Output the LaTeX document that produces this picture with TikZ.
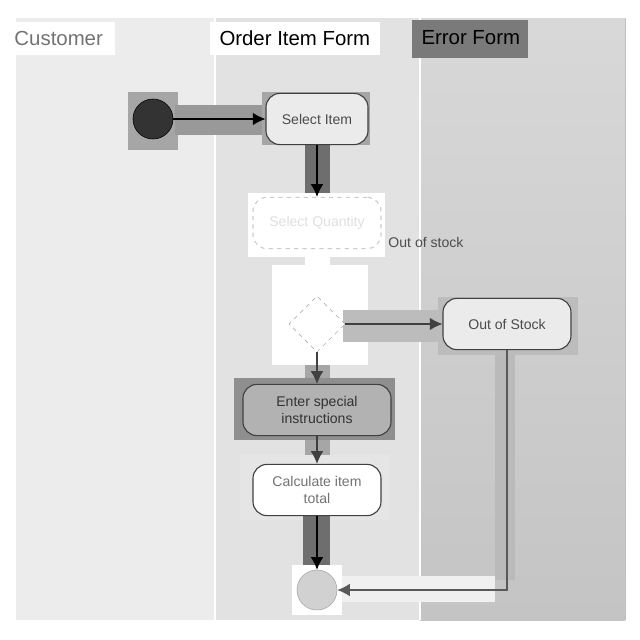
\documentclass[tikz,border=0pt]{standalone}
\usepackage{fontspec}
\setmainfont{Liberation Sans}
\usetikzlibrary{shapes.geometric,arrows.meta}

\definecolor{laneA}{HTML}{ECECEC}
\definecolor{laneB}{HTML}{E2E2E2}
\definecolor{laneCtop}{HTML}{D8D8D8}
\definecolor{laneCbot}{HTML}{C4C4C4}
\definecolor{markDark}{HTML}{6E6E6E}
\definecolor{markMid}{HTML}{A6A6A6}
\definecolor{markLight}{HTML}{BCBCBC}

\tikzset{
  action/.style={draw=black!75,thick,rounded corners=0.35cm,fill=black!8,
    minimum width=3.2cm,minimum height=1.28cm,align=center,
    font=\fontsize{10}{12}\selectfont,text=black!70},
  flow/.style={thick,black,-{Latex[length=9pt,width=9pt]}},
  header/.style={anchor=west,inner sep=3pt,font=\fontsize{14.5}{16}\selectfont}
}

\begin{document}
\begin{tikzpicture}[x=0.025cm,y=-0.025cm]
      % Canvas
      \useasboundingbox[fill=white] (0,0) rectangle (640,640);

      % Swimlanes
      \fill[laneA] (15,18) rectangle (215,620);
      \fill[laneB] (215,18) rectangle (420,620);
      \shade[top color=laneCtop,bottom color=laneCbot] (420,18) rectangle (625,620);
      \draw[white,line width=1.5pt] (15,18) -- (15,620) (215,18) -- (215,620)
            (420,18) -- (420,620);
      \draw[black!25] (625,18) -- (625,620);

      % Lane headers
      \fill[white] (5,22) rectangle (115,55);
      \node[header,text=black!55] (hcust) at (10,38) {Customer};
      \fill[white] (210,22) rectangle (380,55);
      \node[header] (horder) at (215,38) {Order Item Form};
      \fill[black!52] (412,20) rectangle (528,58);
      \node[header] (herror) at (417,38) {Error Form};

      % Highlight marks behind the flow
      \fill[markMid] (128,92) rectangle (178,150);
      \fill[black!40] (175,105) rectangle (265,135);
      \fill[markMid] (262,92) rectangle (370,145);
      \fill[markDark] (305,145) rectangle (330,195);
      \fill[white] (248,193) rectangle (385,257);
      \fill[white] (305,257) rectangle (330,265);
      \fill[white] (272,265) rectangle (368,365);
      \fill[markLight] (343,310) rectangle (440,342);
      \fill[markLight] (438,297) rectangle (578,355);
      \fill[markMid] (305,365) rectangle (330,385);
      \fill[black!44] (234,378) rectangle (395,440);
      \fill[markMid] (305,440) rectangle (330,462);
      \fill[black!10] (240,455) rectangle (390,520);
      \fill[markDark] (303,515) rectangle (330,568);
      \fill[white] (292,565) rectangle (342,615);
      \fill[black!27] (495,355) rectangle (515,580);
      \fill[black!6] (342,576) rectangle (495,602);

      % Activity nodes
      \node[circle,fill=black!80,draw=black,minimum size=1cm] (start) at (153,119) {};
      \node[action,minimum width=2.55cm] (select) at (317,119) {Select Item};
      \node[action,fill=white,draw=black!20,dashed,text=black!12] (qty) at (317,223)
            {Select Quantity};
      \node[diamond,draw=black!30,dashed,fill=white,minimum size=1.4cm,inner sep=0pt]
            (dec) at (317,324) {};
      \node[action] (oos) at (507,324) {Out of Stock};
      \node[action,fill=black!30,minimum width=3.7cm,text=black!80] (enter) at (317,410)
            {Enter special\\instructions};
      \node[action,fill=white,text=black!55] (calc) at (317,490) {Calculate item\\total};
      \node[circle,fill=black!18,draw=black!35,minimum size=1cm] (stop) at (317,590) {};

      % Guard label
      \node[font=\fontsize{10}{12}\selectfont,text=black!70,inner sep=1pt] (guard)
            at (426,242) {Out of stock};

      % Transitions
      \draw[flow] (start) -- (select);
      \draw[flow] (select) -- (qty);
      \draw[white,thick] (qty) -- (dec);
      \draw[flow,black!75] (dec) -- (oos);
      \draw[flow,black!75] (dec) -- (enter);
      \draw[flow,black!75] (enter) -- (calc);
      \draw[flow] (calc) -- (stop);
      \draw[flow,black!65] (oos) |- (stop);
\end{tikzpicture}
\end{document}
